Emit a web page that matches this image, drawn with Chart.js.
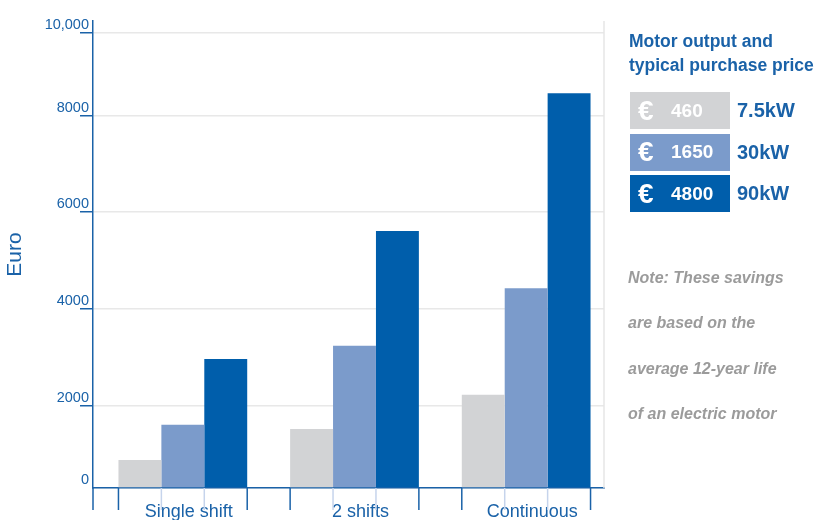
<!DOCTYPE html>
<html>
<head>
<meta charset="utf-8">
<script src="https://cdn.jsdelivr.net/npm/chart.js@4.4.1/dist/chart.umd.min.js"></script>
<style>
  body { margin: 0; background: #fff; font-family: "Liberation Sans", Arial, sans-serif; }
  #wrap { position: relative; width: 815px; height: 520px; overflow: hidden; }
  #chart { position: absolute; left: 0; top: 0; }
  .title { position: absolute; left: 629px; top: 29px; color: #1a62a8; font-weight: bold;
           font-size: 17.5px; line-height: 24px; white-space: nowrap; }
  .key { position: absolute; left: 630px; top: 92px; }
  .row { display: flex; align-items: center; height: 37px; margin-bottom: 4.5px; }
  .box { width: 100px; height: 37px; display: flex; align-items: center; color: #fff;
         font-weight: bold; font-size: 19px; box-sizing: border-box; padding-left: 8px; }
  .box .eur { font-size: 28px; width: 33px; }
  .out { margin-left: 7px; color: #1a62a8; font-weight: bold; font-size: 20px; }
  .note { position: absolute; left: 628px; top: 255px; color: #9b9b9b; font-weight: bold;
          font-style: italic; font-size: 16px; line-height: 45.3px; white-space: nowrap; }
</style>
</head>
<body>
<div id="wrap">
  <canvas id="chart" width="815" height="520"></canvas>
  <div class="title">Motor output and<br>typical purchase price</div>
  <div class="key" id="key"></div>
  <div class="note">Note: These savings<br>are based on the<br>average 12-year life<br>of an electric motor</div>
</div>
<script>
// savings per year of operation, by shift pattern
let categories = ["Single shift", "2 shifts", "Continuous"];
let saving75kW = [680, 1440, 2230];
let saving30kW = [1540, 3240, 4430];
let saving90kW = [2970, 5610, 8550];

// motor output and typical purchase price
let motorOutputs = ["7.5kW", "30kW", "90kW"];
let motorPrices = [460, 1650, 4800];

let yTicks = [0, 2000, 4000, 6000, 8000, 10000];

let barColors = ["#d2d3d5", "#7b9bcb", "#005eab"];
let blue = "#1a62a8";

// the original axis is not evenly spaced, so map values piece by piece
class StepScale extends Chart.LinearScale {
    static id = "step";
    getPixelForValue(value) {
        if (value === null || value === undefined) return NaN;
        let st = this.options.stops;
        let i = 1;
        while (i < st.length - 1 && value > st[i][0]) i++;
        let v0 = st[i - 1][0], d0 = st[i - 1][1], v1 = st[i][0], d1 = st[i][1];
        return this.getPixelForDecimal(d0 + (value - v0) / (v1 - v0) * (d1 - d0));
    }
}

// category axis whose bands sit a little off the plot edges
class ShiftedCategoryScale extends Chart.CategoryScale {
    static id = "shiftedCategory";
    configure() {
        super.configure();
        let s = this.options.shift || [0, 0];
        this._startPixel += s[0];
        this._endPixel += s[1];
        this._length = this._endPixel - this._startPixel;
    }
}
Chart.register(StepScale, ShiftedCategoryScale);

let axisMarks = {
    id: "axisMarks",
    afterDraw(chart) {
        let ctx = chart.ctx, a = chart.chartArea;
        function line(x1, y1, x2, y2, color) {
            ctx.strokeStyle = color;
            ctx.beginPath(); ctx.moveTo(x1, y1); ctx.lineTo(x2, y2); ctx.stroke();
        }
        ctx.save();
        ctx.lineWidth = 1.5;
        line(a.right, a.top, a.right, a.bottom, "#e6e6e6");
        line(a.left, a.bottom, a.left, a.bottom + 22, blue);
        let metas = chart.getSortedVisibleDatasetMetas();
        metas.forEach(function (meta, di) {
            meta.data.forEach(function (bar) {
                let p = bar.getProps(["x", "width"], true);
                let l = p.x - p.width / 2, r = p.x + p.width / 2;
                line(l, a.bottom, l, a.bottom + 22, di === 0 ? blue : "#c6d4ec");
                if (di === metas.length - 1) line(r, a.bottom, r, a.bottom + 22, blue);
            });
        });
        ctx.restore();
    }
};

// legend boxes
let key = document.getElementById("key");
motorPrices.forEach(function (price, i) {
    let row = document.createElement("div");
    row.className = "row";
    row.innerHTML = '<div class="box" style="background:' + barColors[i] + '"><span class="eur">€</span>' +
        price + '</div><div class="out">' + motorOutputs[i] + '</div>';
    key.appendChild(row);
});

Chart.defaults.font.family = '"Liberation Sans", Arial, sans-serif';

new Chart("chart", {
    type: "bar",
    data: {
        labels: categories,
        datasets: [
            { label: motorOutputs[0], data: saving75kW, backgroundColor: barColors[0] },
            { label: motorOutputs[1], data: saving30kW, backgroundColor: barColors[1] },
            { label: motorOutputs[2], data: saving90kW, backgroundColor: barColors[2] }
        ]
    },
    options: {
        responsive: false,
        animation: false,
        layout: { padding: { top: 21, right: 211, left: 0, bottom: 0 } },
        plugins: { legend: { display: false }, tooltip: { enabled: false } },
        datasets: { bar: { categoryPercentage: 0.75, barPercentage: 1, borderWidth: 0 } },
        scales: {
            x: {
                type: "shiftedCategory",
                shift: [4, 8],
                grid: { drawOnChartArea: false, drawTicks: false },
                border: { color: blue, width: 1.5 },
                ticks: { color: blue, font: { size: 18 }, padding: 13, labelOffset: 6 },
                afterFit(scale) { scale.height = 32; }
            },
            y: {
                type: "step",
                min: 0,
                max: 10290,
                stops: [[0, 0], [2000, 0.1756], [4000, 0.3833], [6000, 0.591], [8000, 0.7966], [10000, 0.9743], [10290, 1]],
                afterBuildTicks(scale) { scale.ticks = yTicks.map(v => ({ value: v })); },
                grid: {
                    color: "#e8e8e8",
                    lineWidth: 1.5,
                    tickLength: 13,
                    tickWidth: 1.5,
                    tickColor: ctx => (ctx.tick && ctx.tick.value === 0) ? "rgba(0,0,0,0)" : blue
                },
                border: { color: blue, width: 1.5 },
                ticks: {
                    color: blue,
                    font: { size: 14.5 },
                    padding: -9,
                    labelOffset: -8,
                    callback: v => v >= 10000 ? v.toLocaleString("en-US") : String(v)
                },
                title: { display: true, text: "Euro", color: blue, font: { size: 21 }, padding: 3 },
                afterFit(scale) { scale.width = 93; }
            }
        }
    },
    plugins: [axisMarks]
});
</script>
</body>
</html>
